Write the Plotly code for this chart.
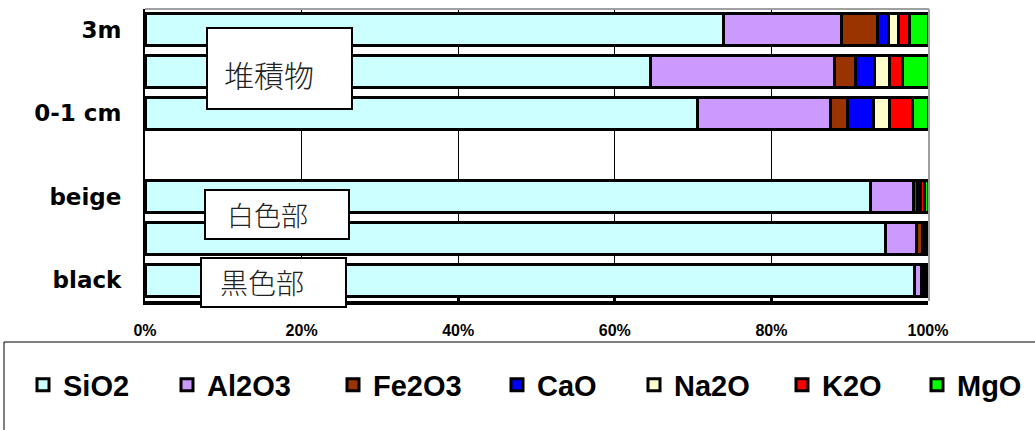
import plotly.graph_objects as go

# Row labels, top to bottom (blank labels are unnamed samples / spacer row)
rows = ["3m", "", "0-1 cm", "", "beige", "", "black"]

# Oxide composition of each row (percent); spacer row has no data
sio2 = [73.9, 64.6, 70.5, None, 92.7, 94.6, 98.3]
al2o3 = [15.0, 23.4, 17.0, None, 5.4, 3.9, 0.9]
fe2o3 = [4.6, 2.8, 2.2, None, 0.5, 0.8, 0.3]
cao = [1.4, 2.4, 3.3, None, 0.3, 0.1, 0.1]
na2o = [1.3, 1.9, 2.1, None, 0.2, 0.1, 0.1]
k2o = [1.4, 1.7, 2.9, None, 0.4, 0.3, 0.2]
mgo = [2.4, 3.2, 2.0, None, 0.5, 0.2, 0.1]

series_names = ["SiO2", "Al2O3", "Fe2O3", "CaO", "Na2O", "K2O", "MgO"]
series_values = [sio2, al2o3, fe2o3, cao, na2o, k2o, mgo]
colors = ["#CCFFFF", "#CC99FF", "#993300", "#0000FF", "#FFFFCC", "#FF0000", "#00FF00"]

x_ticks = [0, 20, 40, 60, 80, 100]

# Group boxes: label, font size
groups = [("堆積物", 30), ("白色部", 27), ("黒色部", 28)]

W, H = 1035, 430
L, R, T, B = 145, 107, 9, 129
pw, ph = W - L - R, H - T - B


def px_x(px):
    return (px - L) / pw


def px_y(py):
    return (H - B - py) / ph


ypos = list(range(len(rows)))

fig = go.Figure()
legend_left = [40, 184, 350, 514, 651, 799, 934]
for i, (name, vals, col) in enumerate(zip(series_names, series_values, colors)):
    lg = "legend" if i == 0 else f"legend{i + 1}"
    fig.add_trace(go.Bar(
        name=name, x=vals, y=ypos, orientation="h",
        marker=dict(color=col, line=dict(color="black", width=3)),
        width=0.77, legend=lg, hoverinfo="skip",
    ))

legend_font = dict(family="Liberation Sans, Arial", size=29, color="black", weight="bold")
legends = {}
for i, lx in enumerate(legend_left):
    key = "legend" if i == 0 else f"legend{i + 1}"
    legends[key] = dict(
        x=px_x(lx - 17), y=px_y(385), xanchor="left", yanchor="middle",
        orientation="h", bgcolor="rgba(0,0,0,0)", borderwidth=0,
        font=legend_font, itemclick=False, itemdoubleclick=False,
    )

shapes = [
    # outer frame of legend area
    dict(type="rect", xref="paper", yref="paper",
         x0=px_x(4), x1=px_x(1045), y0=px_y(342), y1=px_y(445),
         line=dict(color="black", width=1), fillcolor="rgba(0,0,0,0)", layer="below"),
    # plot area top and right border
    dict(type="line", xref="paper", yref="paper", x0=0, x1=px_x(929), y0=1, y1=1,
         line=dict(color="#A0A0A0", width=2), layer="above"),
    dict(type="line", xref="paper", yref="paper", x0=px_x(929), x1=px_x(929), y0=0, y1=1,
         line=dict(color="#A0A0A0", width=2), layer="above"),
]

box_px = [(207, 352, 28, 109), (205, 349, 190, 239), (201, 346, 258, 307)]
text_px = [(269, 74), (267, 214), (262, 282)]
annotations = []
for (label, fs), (x0, x1, y0, y1), (tx, ty) in zip(groups, box_px, text_px):
    shapes.append(dict(type="rect", xref="paper", yref="paper",
                       x0=px_x(x0), x1=px_x(x1), y0=px_y(y1), y1=px_y(y0),
                       line=dict(color="black", width=2), fillcolor="white", layer="above"))
    annotations.append(dict(text=label, xref="paper", yref="paper",
                            x=px_x(tx), y=px_y(ty), xanchor="center", yanchor="middle",
                            showarrow=False,
                            font=dict(family="Noto Sans CJK JP", size=fs, color="#222222",
                                      weight=300)))

fig.update_layout(
    width=W, height=H,
    margin=dict(l=L, r=R, t=T, b=B, autoexpand=False),
    barmode="stack", bargap=0.23,
    plot_bgcolor="white", paper_bgcolor="white",
    shapes=shapes, annotations=annotations,
    showlegend=True,
    **legends,
)

fig.update_xaxes(
    range=[0, 100], tickvals=x_ticks, ticktext=[f"{v}%" for v in x_ticks],
    showgrid=True, gridcolor="black", gridwidth=1,
    showline=True, linecolor="black", linewidth=4,
    ticks="inside", ticklen=5, tickwidth=3, tickcolor="black",
    ticklabelstandoff=12,
    tickfont=dict(family="Liberation Sans, Arial", size=16, color="black", weight="bold"),
    zeroline=False, fixedrange=True,
)
fig.update_yaxes(
    range=[len(rows) - 0.5, -0.5], tickvals=ypos, ticktext=rows,
    showgrid=False, showline=True, linecolor="black", linewidth=2,
    ticks="", ticklabelstandoff=17,
    tickfont=dict(family="DejaVu Sans", size=23, color="black", weight="bold"),
    zeroline=False, fixedrange=True,
)

fig.write_html("out.html", config={"displayModeBar": False})
